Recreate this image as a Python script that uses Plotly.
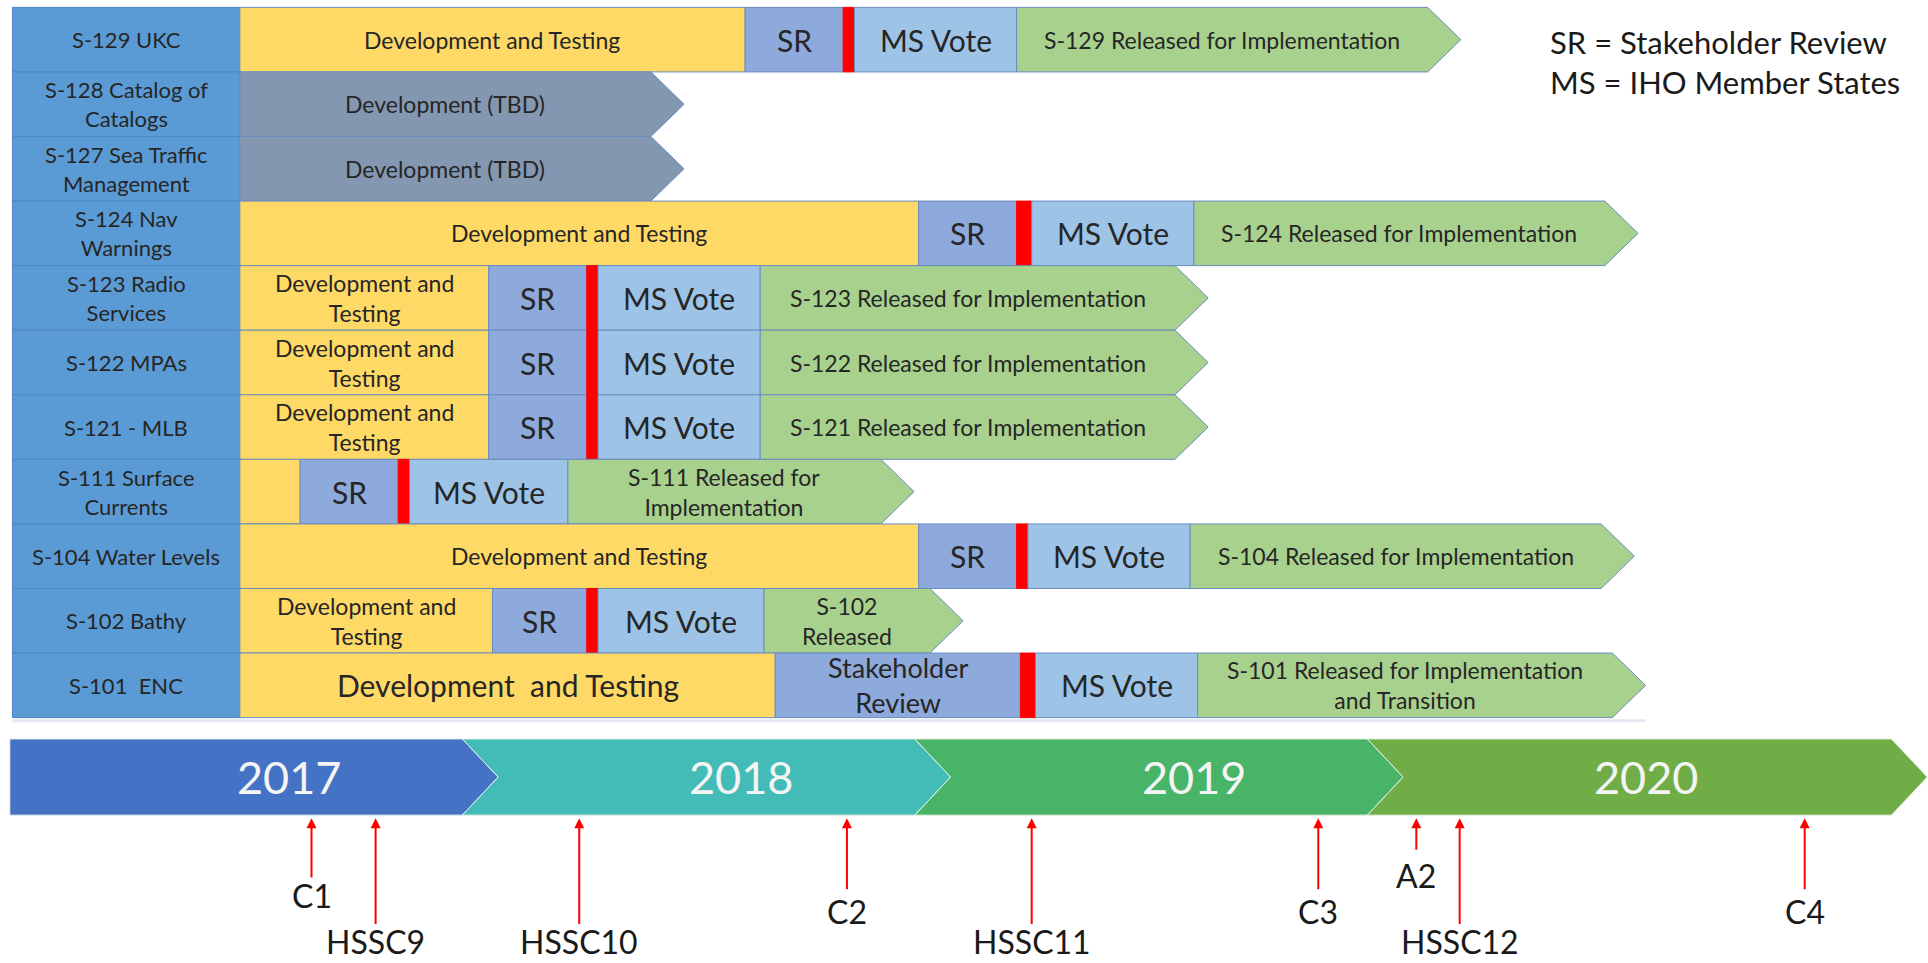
import plotly.graph_objects as go

# ---------------- data (months counted from January 2017) ----------------
products = ["S-129 UKC", "S-128 Catalog of<br>Catalogs", "S-127 Sea Traffic<br>Management",
            "S-124 Nav<br>Warnings", "S-123 Radio<br>Services", "S-122 MPAs", "S-121 - MLB",
            "S-111 Surface<br>Currents", "S-104 Water Levels", "S-102 Bathy", "S-101  ENC"]
label_start = 0.07
phase_start = 6.1
dev_end = [19.5, None, None, 24.1, 12.7, 12.7, 12.7, 7.7, 24.1, 12.8, 20.3]
sr_end = [22.1, None, None, 26.7, 15.3, 15.3, 15.3, 10.3, 26.7, 15.3, 26.8]
vote_start = [22.4, None, None, 27.1, 15.6, 15.6, 15.6, 10.6, 27.0, 15.6, 27.2]
vote_end = [26.7, None, None, 31.4, 19.9, 19.9, 19.9, 14.8, 31.3, 20.0, 31.5]
release_end = [37.6, None, None, 42.3, 30.9, 30.9, 30.9, 23.1, 42.2, 24.4, 42.5]
tbd_end = [None, 17.0, 17.0, None, None, None, None, None, None, None, None]

dev_text = ["Development and Testing", "", "", "Development and Testing",
            "Development and<br>Testing", "Development and<br>Testing", "Development and<br>Testing",
            "", "Development and Testing", "Development and<br>Testing", "Development  and Testing"]
sr_text = ["SR", "", "", "SR", "SR", "SR", "SR", "SR", "SR", "SR", "Stakeholder<br>Review"]
release_text = ["S-129 Released for Implementation", "", "", "S-124 Released for Implementation",
                "S-123 Released for Implementation", "S-122 Released for Implementation",
                "S-121 Released for Implementation", "S-111 Released for<br>Implementation",
                "S-104 Released for Implementation", "S-102<br>Released",
                "S-101 Released for Implementation<br>and Transition"]
tbd_text = "Development (TBD)"

years = ["2017", "2018", "2019", "2020"]
year_start = [0, 12, 24, 36]
year_end = [12, 24, 36, 49.9]

milestones = ["C1", "HSSC9", "HSSC10", "C2", "HSSC11", "C3", "A2", "HSSC12", "C4"]
milestone_month = [8.0, 9.7, 15.1, 22.2, 27.1, 34.7, 37.3, 38.45, 47.6]
milestone_level = [1, 3, 3, 2, 3, 2, 0, 3, 2]

legend_lines = ["SR = Stakeholder Review", "MS = IHO Member States"]

# ---------------- styling ----------------
FONT = "Lato, 'Open Sans', sans-serif"
TXT = "#262626"
C_LABEL = "#5B9BD5"
C_DEV = "#FFD966"
C_TBD = "#8497B0"
C_SR = "#8EA9DB"
C_VOTE = "#9DC3E6"
C_REL = "#A9D18E"
C_RED = "#FF0000"
EDGE = "#6A8CBF"
YEAR_COL = ["#4472C4", "#43BCB8", "#47B467", "#70AD47"]
TIP = 0.88

fig = go.Figure()
ann = []


def poly(xs, ys, fill, edge=EDGE, w=1):
    fig.add_trace(go.Scatter(x=xs, y=ys, mode="lines", fill="toself", fillcolor=fill,
                             line=dict(color=edge, width=w), hoverinfo="skip", showlegend=False))


def box(x0, x1, r, fill, edge=EDGE):
    poly([x0, x1, x1, x0, x0], [r, r, r + 1, r + 1, r], fill, edge)


def arrow(x0, x1, r, fill):
    poly([x0, x1, x1 + TIP, x1, x0, x0], [r, r, r + 0.5, r + 1, r + 1, r], fill)


def label(x, y, text, size, color=TXT):
    ann.append(dict(x=x, y=y, xref="x", yref="y", text=text, showarrow=False,
                    font=dict(family=FONT, size=size, color=color), xanchor="center", yanchor="middle"))


# faint shadow line under the table
fig.add_trace(go.Scatter(x=[label_start, max(r for r in release_end if r) + TIP],
                         y=[len(products) + 0.05] * 2, mode="lines",
                         line=dict(color="#E4E8F0", width=3), hoverinfo="skip", showlegend=False))

for r, name in enumerate(products):
    box(label_start, phase_start, r, C_LABEL, "#4F86C0")
    label((label_start + phase_start) / 2, r + 0.5, name, 22)
    if tbd_end[r] is not None:
        arrow(phase_start, tbd_end[r], r, C_TBD)
        label((phase_start + tbd_end[r]) / 2, r + 0.5, tbd_text, 23)
        continue
    big = r == len(products) - 1
    box(phase_start, dev_end[r], r, C_DEV)
    if dev_text[r]:
        label((phase_start + dev_end[r]) / 2, r + 0.5, dev_text[r], 30 if big else 23)
    box(dev_end[r], sr_end[r], r, C_SR)
    label((dev_end[r] + sr_end[r]) / 2, r + 0.5, sr_text[r], 27 if big else 30)
    box(sr_end[r], vote_start[r], r, C_RED, C_RED)
    box(vote_start[r], vote_end[r], r, C_VOTE)
    label((vote_start[r] + vote_end[r]) / 2, r + 0.5, "MS Vote", 30)
    arrow(vote_end[r], release_end[r], r, C_REL)
    label((vote_end[r] + release_end[r]) / 2, r + 0.5, release_text[r], 23)

# timeline
ty0, ty1 = 11.33, 12.51
ttip = 0.95
for i, yr in enumerate(years):
    s, e = year_start[i], year_end[i]
    notch = 0 if i == 0 else ttip
    poly([s, e, e + ttip, e, s, s + notch, s], [ty0, ty0, (ty0 + ty1) / 2, ty1, ty1, (ty0 + ty1) / 2, ty0],
         YEAR_COL[i], "#E8F0E8", 1)
    label(s + 7.4, (ty0 + ty1) / 2, yr, 45, "#F4F4F4")

# milestones
tail_y = [13.07, 13.5, 13.68, 14.22]
text_y = [13.45, 13.75, 14.0, 14.47]
for m, xm, lv in zip(milestones, milestone_month, milestone_level):
    ann.append(dict(x=xm, y=12.56, ax=xm, ay=tail_y[lv], xref="x", yref="y", axref="x", ayref="y",
                    text="", showarrow=True, arrowhead=2, arrowsize=1, arrowwidth=2,
                    arrowcolor=C_RED, standoff=0, startstandoff=0))
    label(xm, text_y[lv], m, 32, "#1a1a1a")

# legend text
ann.append(dict(x=40.8, y=0.85, xref="x", yref="y", text="<br>".join(legend_lines), showarrow=False,
                align="left", font=dict(family=FONT, size=31, color="#1a1a1a"),
                xanchor="left", yanchor="middle"))

fig.update_layout(
    width=1928, height=963, margin=dict(l=0, r=0, t=0, b=0),
    paper_bgcolor="white", plot_bgcolor="white",
    xaxis=dict(range=[-0.261, 50.87], visible=False, fixedrange=True),
    yaxis=dict(range=[14.8, -0.114], visible=False, fixedrange=True),
    annotations=ann, showlegend=False,
)

fig.write_html("out.html", config={"displayModeBar": False},
               post_script="document.body.style.margin='0';document.body.style.overflow='hidden';")
